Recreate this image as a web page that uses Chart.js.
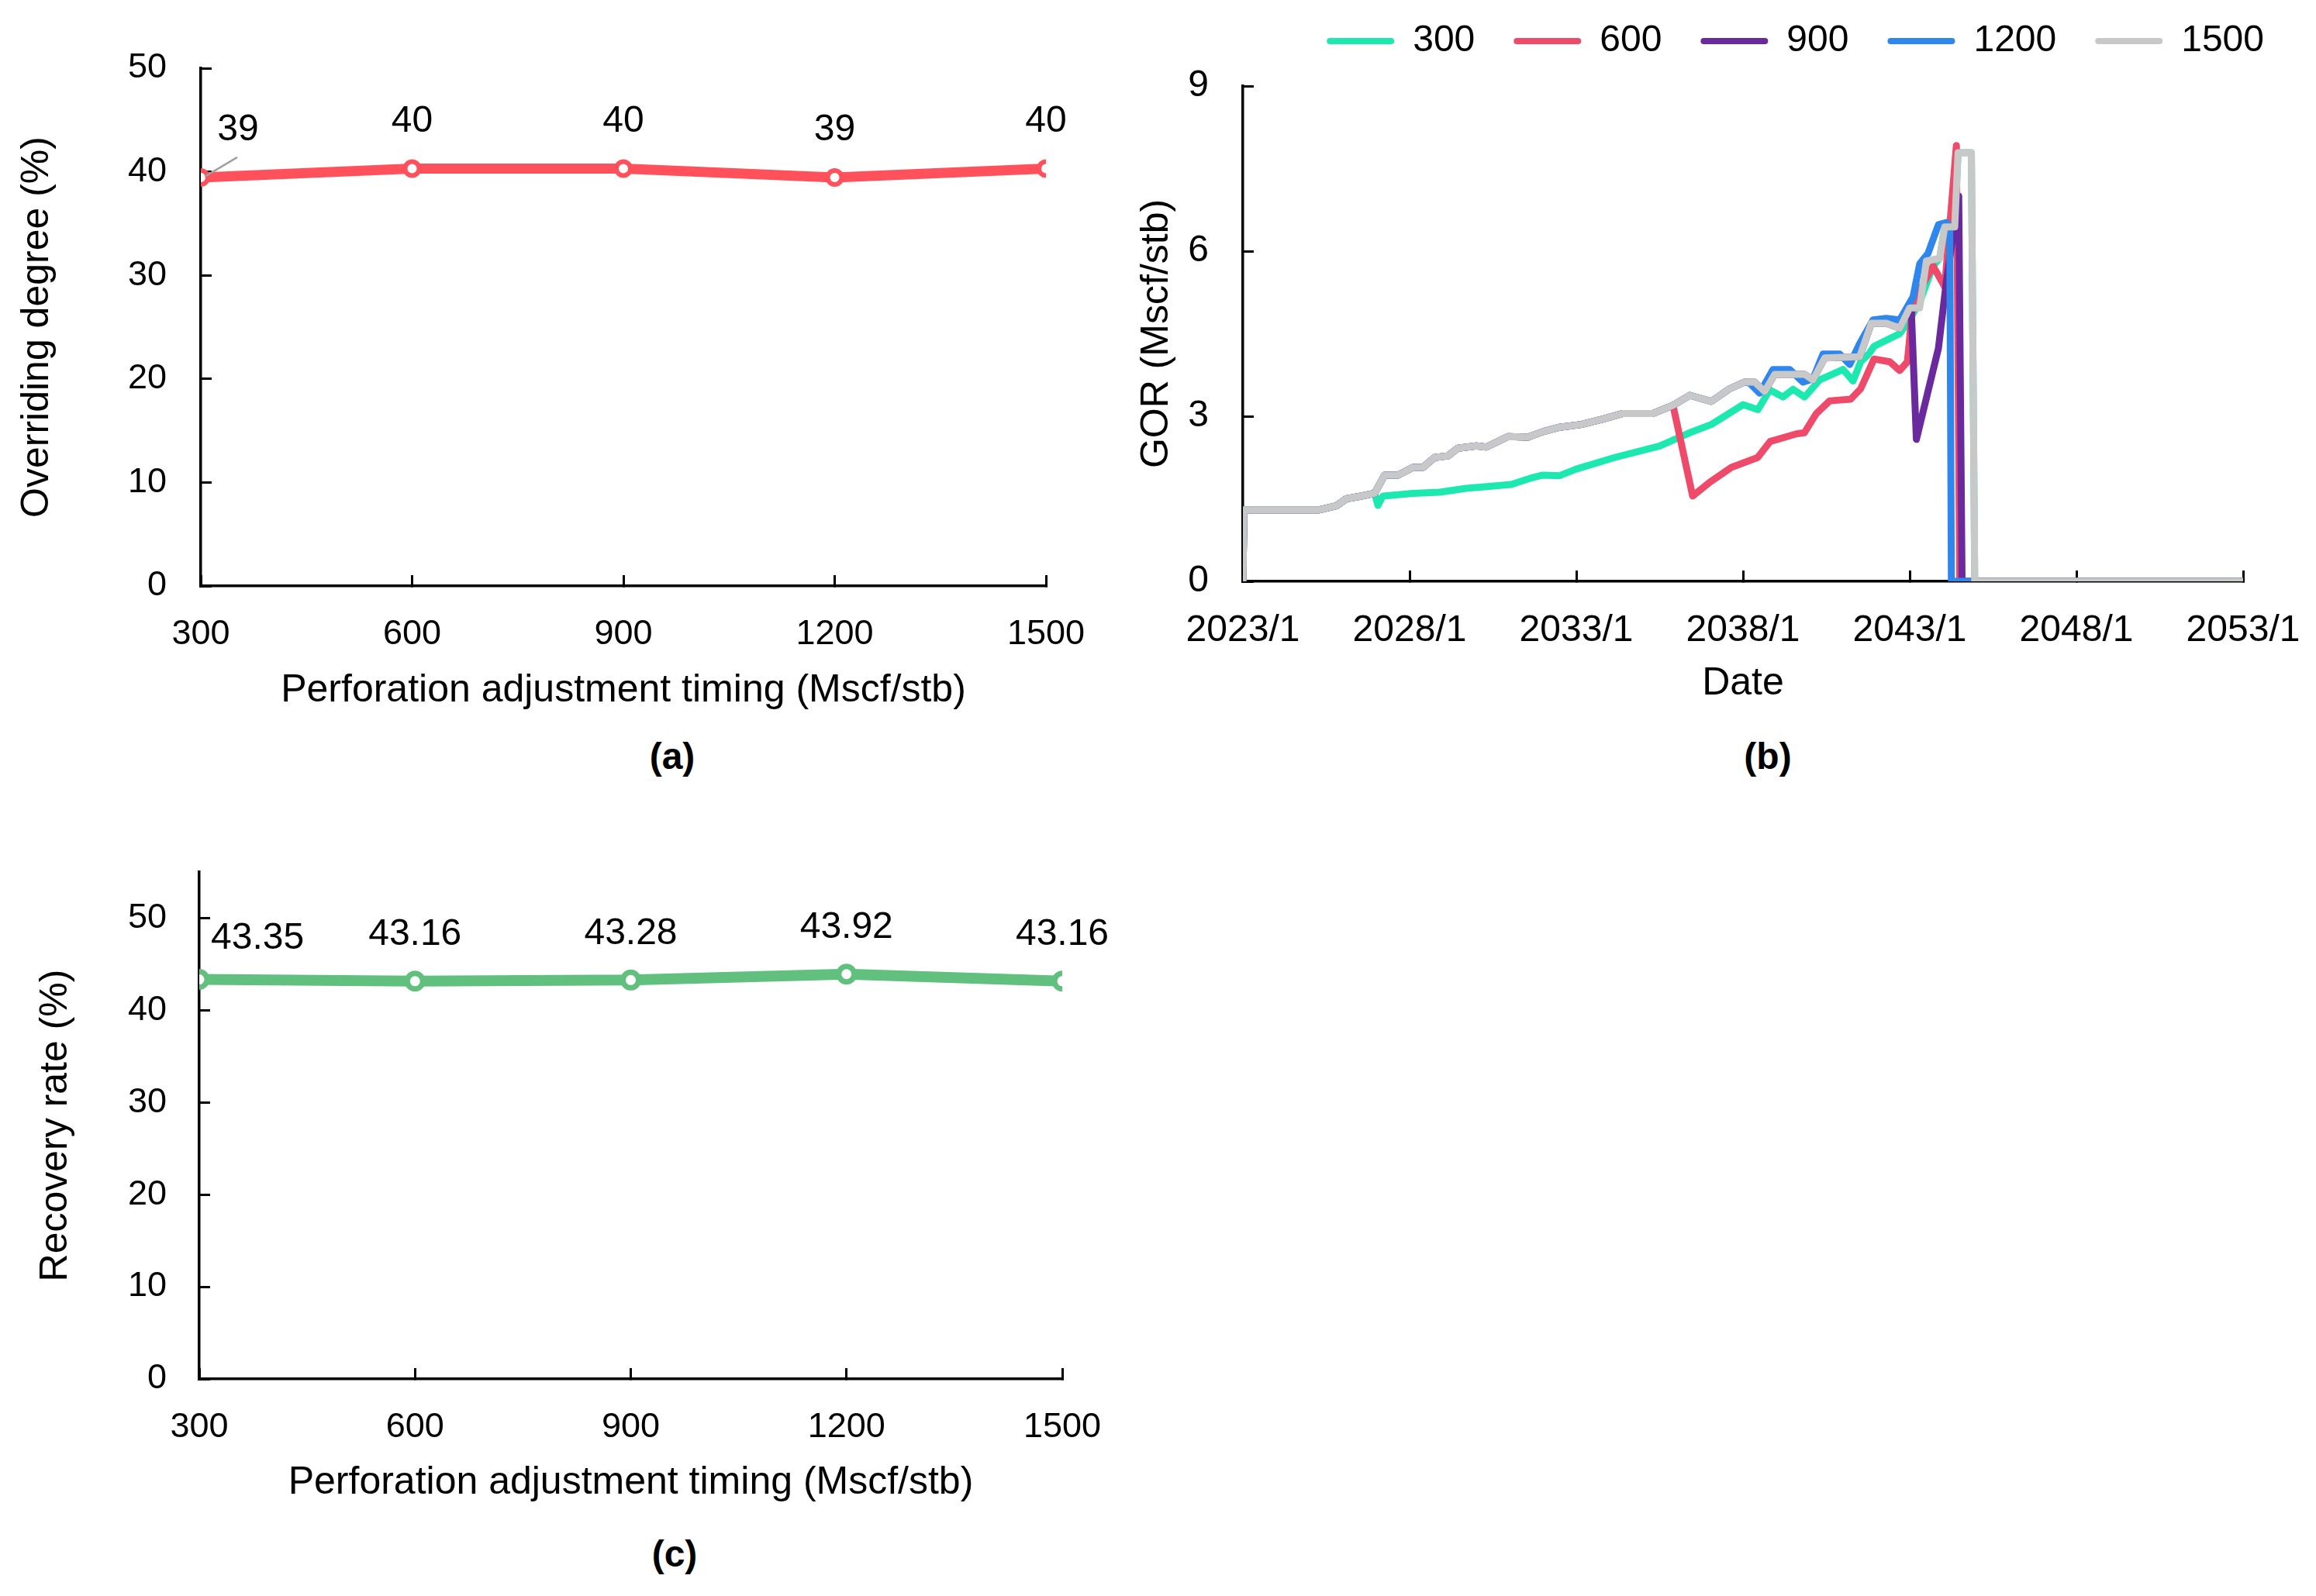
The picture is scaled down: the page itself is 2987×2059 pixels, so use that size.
<!DOCTYPE html>
<html lang="en">
<head>
<meta charset="UTF-8">
<title>Perforation adjustment timing</title>
<style>
    body {
        margin: 0;
        background: #fff;
        font-family: "Liberation Sans", Arial, sans-serif;
    }

    #page {
        position: relative;
        width: 2987px;
        height: 2059px;
        overflow: hidden;
        background: #fff;
    }

    canvas {
        position: absolute;
    }

    .tag {
        position: absolute;
        font-weight: bold;
        font-size: 48px;
        color: #000;
        transform: translate(-50%, -50%);
    }
</style>
</head>
<body>
<div id="page">
    <canvas id="chartA" width="1440" height="925" style="left:0;top:0"></canvas>
    <canvas id="chartB" width="1547" height="937" style="left:1440px;top:-21px"></canvas>
    <canvas id="chartC" width="1440" height="867" style="left:0;top:1080px"></canvas>
    <div class="tag" style="left:867px;top:975px">(a)</div>
    <div class="tag" style="left:2280px;top:975px">(b)</div>
    <div class="tag" style="left:870px;top:2004px">(c)</div>
</div>

<script src="https://cdn.jsdelivr.net/npm/chart.js"></script>
<script>
    const FONT = '"Liberation Sans", Arial, sans-serif';

    // (a) and (c): perforation adjustment timing
    const timings = [300, 600, 900, 1200, 1500];
    const overriding = [39.45, 40.3, 40.3, 39.45, 40.3];
    const recovery = [43.35, 43.16, 43.28, 43.92, 43.16];
    const percentTicks = [0, 10, 20, 30, 40, 50];

    // (b): GOR vs date, [decimal year, GOR]
    const gorNames = ['300', '600', '900', '1200', '1500'];
    const gorColors = ['#1DE8B0', '#EE4A6A', '#6A2A9E', '#2F86EC', '#C8C8C8'];
    const dateTicks = [2023, 2028, 2033, 2038, 2043, 2048, 2053];

    const gor1500 = [
        [2023.00, 0.00], [2023.03, 1.30], [2025.30, 1.30], [2025.80, 1.37], [2026.10, 1.50],
        [2026.55, 1.55], [2026.95, 1.60], [2027.25, 1.93], [2027.65, 1.93], [2028.10, 2.07],
        [2028.40, 2.07], [2028.75, 2.25], [2029.15, 2.28], [2029.45, 2.42], [2030.00, 2.46],
        [2030.30, 2.44], [2030.95, 2.63], [2031.55, 2.62], [2032.00, 2.72], [2032.50, 2.80],
        [2033.15, 2.85], [2033.80, 2.95], [2034.40, 3.05], [2035.30, 3.05], [2035.90, 3.20],
        [2036.40, 3.38], [2037.05, 3.27], [2037.60, 3.50], [2038.05, 3.62], [2038.35, 3.62],
        [2038.65, 3.45], [2038.95, 3.76], [2039.85, 3.76], [2040.10, 3.66], [2040.45, 4.06],
        [2041.50, 4.08], [2041.85, 4.69], [2042.30, 4.69], [2042.70, 4.60], [2043.00, 4.97],
        [2043.30, 4.97], [2043.50, 5.82], [2043.90, 5.87], [2044.05, 6.44], [2044.35, 6.44],
        [2044.45, 7.79], [2044.85, 7.79], [2044.95, 0.00], [2053.00, 0.00]
    ];
    const tail300 = [
        [2027.05, 1.38], [2027.20, 1.55], [2028.10, 1.60], [2028.90, 1.62], [2029.70, 1.69],
        [2030.45, 1.73], [2031.05, 1.76], [2031.60, 1.87], [2032.00, 1.93], [2032.50, 1.92],
        [2033.00, 2.04], [2034.15, 2.25], [2035.50, 2.46], [2036.40, 2.70], [2037.05, 2.85],
        [2038.00, 3.21], [2038.45, 3.12], [2038.80, 3.48], [2039.20, 3.35], [2039.50, 3.49],
        [2039.85, 3.35], [2040.30, 3.66], [2041.00, 3.85], [2041.30, 3.64], [2041.53, 3.99],
        [2041.77, 4.13], [2041.93, 4.27], [2042.70, 4.50], [2042.93, 4.69], [2043.30, 5.07],
        [2043.70, 5.73], [2043.90, 5.87], [2044.05, 6.44], [2044.35, 6.44], [2044.45, 7.79],
        [2044.85, 7.79], [2044.95, 0.00], [2053.00, 0.00]
    ];
    const tail600 = [
        [2036.49, 1.55], [2037.00, 1.80], [2037.65, 2.07], [2038.44, 2.25], [2038.81, 2.54],
        [2039.60, 2.68], [2039.84, 2.70], [2040.20, 3.05], [2040.60, 3.28], [2041.23, 3.31],
        [2041.53, 3.50], [2041.93, 4.04], [2042.40, 3.99], [2042.70, 3.83], [2042.93, 3.99],
        [2043.10, 5.07], [2043.70, 5.73], [2044.05, 5.35], [2044.40, 7.92], [2044.50, 0.00],
        [2053.00, 0.00]
    ];
    const tail900 = [
        [2043.05, 4.90], [2043.20, 2.58], [2043.86, 4.23], [2044.10, 5.45], [2044.47, 7.00],
        [2044.57, 0.00], [2053.00, 0.00]
    ];
    const tail1200 = [
        [2038.20, 3.60], [2038.50, 3.42], [2038.90, 3.85], [2039.40, 3.85], [2039.80, 3.62],
        [2040.10, 3.68], [2040.40, 4.13], [2040.90, 4.13], [2041.20, 3.94], [2041.50, 4.32],
        [2041.90, 4.75], [2042.30, 4.78], [2042.70, 4.75], [2043.10, 5.17], [2043.30, 5.77],
        [2043.55, 5.96], [2043.86, 6.48], [2044.10, 6.52], [2044.20, 6.44], [2044.25, 0.00],
        [2053.00, 0.00]
    ];
    // each case follows the 1500 path until it branches off
    const branchYear = [2026.95, 2035.90, 2043.00, 2038.05, 2053.00];
    const gorTails = [tail300, tail600, tail900, tail1200, []];

    // value labels above the points (first one shifted off the axis)
    const pointLabels = {
        id: 'pointLabels',
        afterDatasetsDraw(chart, args, opts) {
            const ctx = chart.ctx;
            const pts = chart.getDatasetMeta(0).data;
            ctx.save();
            if (opts.leader) {
                const p = pts[0];
                ctx.strokeStyle = '#A0A0A0';
                ctx.lineWidth = 2.5;
                ctx.beginPath();
                ctx.moveTo(p.x + opts.leader[0], p.y + opts.leader[1]);
                ctx.lineTo(p.x + opts.leader[2], p.y + opts.leader[3]);
                ctx.stroke();
            }
            ctx.font = `${opts.size}px ${FONT}`;
            ctx.fillStyle = '#000';
            ctx.textBaseline = 'middle';
            pts.forEach((p, i) => {
                const first = i === 0;
                ctx.textAlign = first ? opts.firstAlign : 'center';
                ctx.fillText(opts.texts[i], p.x + (first ? opts.firstDx : 0), p.y - (first ? opts.firstDy : opts.dy));
            });
            ctx.restore();
        }
    };

    function makeAxis(o) {
        return {
            type: 'linear',
            min: o.min,
            max: o.max,
            ticks: {
                stepSize: o.step,
                color: '#000',
                padding: o.labelPad,
                font: { family: FONT, size: o.tickSize },
                callback: o.format || (v => String(v))
            },
            grid: { drawOnChartArea: false, color: '#000', lineWidth: 3, tickLength: -14 },
            border: { color: '#000', width: 3.5 },
            title: {
                display: true,
                text: o.title,
                color: '#000',
                font: { family: FONT, size: 50 },
                padding: o.titlePad
            },
            afterBuildTicks: o.tickValues ? (s => { s.ticks = o.tickValues.map(v => ({ value: v })); }) : undefined,
            // fixed axis box; edge padding kept out of the label padding
            afterFit: s => {
                if (o.isX) {
                    s.height = o.fit;
                    s.paddingLeft = 0;
                    s.paddingRight = o.edge || 0;
                } else {
                    s.width = o.fit;
                    s.paddingTop = 0;
                    s.paddingBottom = 0;
                }
            }
        };
    }

    function timingChart(id, values, color, opts) {
        return new Chart(document.getElementById(id), {
            type: 'line',
            data: {
                datasets: [{
                    data: timings.map((t, i) => ({ x: t, y: values[i] })),
                    borderColor: color,
                    backgroundColor: '#fff',
                    borderWidth: opts.lineWidth,
                    pointRadius: opts.pointRadius,
                    pointBorderWidth: opts.pointBorder,
                    pointBackgroundColor: '#fff',
                    pointBorderColor: color,
                    tension: 0
                }]
            },
            options: {
                responsive: false,
                animation: false,
                layout: { padding: opts.padding },
                scales: {
                    x: makeAxis({
                        isX: true, min: 300, max: 1500, step: 300, tickSize: 45, labelPad: 50,
                        title: 'Perforation adjustment timing (Mscf/stb)',
                        titlePad: { top: 0, bottom: 4 }, fit: opts.xFit, tickValues: timings
                    }),
                    y: makeAxis({
                        min: 0, max: opts.yMax, step: 10, tickSize: 45, labelPad: opts.yLabelPad,
                        title: opts.yTitle, titlePad: { top: opts.yTitlePad, bottom: 0 }, fit: opts.yFit,
                        tickValues: percentTicks
                    })
                },
                plugins: {
                    legend: { display: false },
                    tooltip: { enabled: false },
                    pointLabels: opts.labels
                }
            },
            plugins: [pointLabels]
        });
    }

    // (a)
    timingChart('chartA', overriding, '#FF515B', {
        lineWidth: 13, pointRadius: 9, pointBorder: 6,
        padding: { left: 0, right: 91, top: 88, bottom: 0 },
        xFit: 169, yFit: 259, yMax: 50, yLabelPad: 58, yTitlePad: 18,
        yTitle: 'Overriding degree (%)',
        labels: {
            texts: overriding.map(v => String(Math.round(v))),
            size: 48, dy: 61, firstDy: 61, firstDx: 48, firstAlign: 'center',
            leader: [5, -1, 47, -26]
        }
    });

    // (c)
    timingChart('chartC', recovery, '#62C07E', {
        lineWidth: 14, pointRadius: 10, pointBorder: 7,
        padding: { left: 0, right: 70, top: 45, bottom: 0 },
        xFit: 168, yFit: 257, yMax: 55, yLabelPad: 56, yTitlePad: 42,
        yTitle: 'Recovery rate (%)',
        labels: {
            texts: recovery.map(v => v.toFixed(2)),
            size: 48, dy: 60, firstDy: 53, firstDx: 15, firstAlign: 'left'
        }
    });

    // (b)
    const gorDatasets = gorNames.map((name, i) => {
        const pts = gor1500.filter(p => p[0] <= branchYear[i]).concat(gorTails[i]);
        return {
            label: name,
            data: pts.map(p => ({ x: p[0], y: p[1] })),
            borderColor: gorColors[i],
            backgroundColor: gorColors[i],
            borderWidth: 9,
            pointRadius: 0,
            tension: 0,
            borderJoinStyle: 'round',
            order: gorNames.length - 1 - i
        };
    });

    new Chart(document.getElementById('chartB'), {
        type: 'line',
        data: { datasets: gorDatasets },
        options: {
            responsive: false,
            animation: false,
            layout: { padding: { left: 0, right: 17, top: 0, bottom: 0 } },
            scales: {
                x: makeAxis({
                    isX: true, min: 2023, max: 2053, step: 5, tickSize: 48, labelPad: 49,
                    title: 'Date', titlePad: { top: 0, bottom: 4 }, fit: 166, edge: 94,
                    tickValues: dateTicks, format: v => v + '/1'
                }),
                y: makeAxis({
                    min: 0, max: 9, step: 3, tickSize: 48, labelPad: 58,
                    title: 'GOR (Mscf/stb)', titlePad: { top: 22, bottom: 0 }, fit: 163
                })
            },
            plugins: {
                tooltip: { enabled: false },
                title: { display: true, text: '', font: { size: 10 }, padding: { top: 0, bottom: 12 } },
                legend: {
                    position: 'top',
                    align: 'end',
                    weight: 3000,
                    labels: {
                        color: '#000',
                        font: { family: FONT, size: 48 },
                        boxWidth: 87,
                        boxHeight: 8,
                        padding: 50,
                        useBorderRadius: true,
                        borderRadius: 4,
                        sort: (a, b) => a.datasetIndex - b.datasetIndex,
                        generateLabels: chart => Chart.defaults.plugins.legend.labels.generateLabels(chart)
                            .map(l => Object.assign(l, { fillStyle: l.strokeStyle, lineWidth: 0 }))
                    }
                }
            }
        }
    });
</script>
</body>
</html>
